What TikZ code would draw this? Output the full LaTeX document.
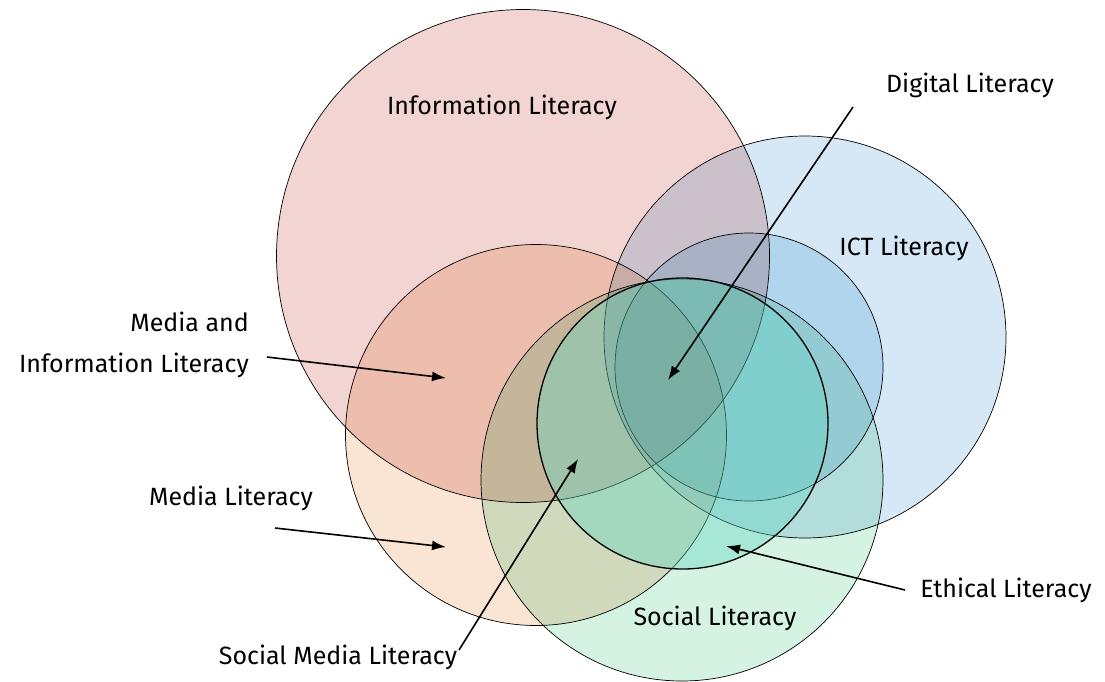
\documentclass[tikz,border=0pt]{standalone}
\usepackage{fontspec}
\setmainfont{Fira Sans}
\usetikzlibrary{arrows.meta}
\definecolor{infoC}{HTML}{F2D5D3}
\definecolor{ictC}{HTML}{D6E8F6}
\definecolor{innerC}{HTML}{D5EBF7}
\definecolor{mediaC}{HTML}{FAE4D3}
\definecolor{socialC}{HTML}{D5F3E2}
\definecolor{ethicC}{HTML}{64D7C4}
\definecolor{tipC}{HTML}{0F2A24}
\tikzset{
  venn/.style={circle, draw=black, line width=0.7pt, inner sep=0pt},
  lbl/.style={font=\fontsize{25}{30}\selectfont, inner sep=0pt, text=black},
  pointer/.style={-{Latex[length=14pt,width=10pt]}, line width=1.6pt, black},
}
\begin{document}
\begin{tikzpicture}[x=1pt,y=-1pt]
\useasboundingbox (0,0) rectangle (1105,681);
\begin{scope}[blend group=multiply]
\node[venn, fill=infoC, minimum size=493pt] (info) at (523,256) {};
\node[venn, fill=ictC, minimum size=402pt] (ict) at (805,337) {};
\node[venn, fill=innerC, minimum size=268pt] (inner) at (749,367) {};
\node[venn, fill=mediaC, minimum size=381pt] (media) at (536,435) {};
\node[venn, fill=socialC, minimum size=402pt] (social) at (682,480) {};
\end{scope}
\node[venn, fill=ethicC, fill opacity=0.4, minimum size=291pt, line width=1.3pt] (ethic) at (682.5,423.5) {};

\node[lbl] (tinfo) at (502,107) {Information Literacy};
\node[lbl] (tict) at (904,248) {ICT Literacy};
\node[lbl] (tsocial) at (715,618) {Social Literacy};
\node[lbl, anchor=east] (tmil1) at (249,322) {Media and};
\node[lbl, anchor=east] (tmil2) at (249,365) {Information Literacy};
\node[lbl] (tml) at (231,498) {Media Literacy};
\node[lbl] (tsml) at (338,657) {Social Media Literacy};
\node[lbl] (tdl) at (970,85) {Digital Literacy};
\node[lbl] (tel) at (1006,590) {Ethical Literacy};

\coordinate (amil) at (267,357);
\coordinate (hmil) at (446,378);
\coordinate (aml) at (275,528);
\coordinate (hml) at (446,547);
\coordinate (asml) at (459,650);
\coordinate (hsml) at (578,459);
\coordinate (adl) at (853,107);
\coordinate (hdl) at (668,380);
\coordinate (ael) at (905,590);
\coordinate (hel) at (726,546);

\draw[pointer] (asml) -- (hsml);
\draw[pointer] (adl) -- (hdl);
\draw[pointer] (amil) -- (hmil);
\draw[pointer] (aml) -- (hml);
\draw[pointer] (ael) -- (hel);
\end{tikzpicture}
\end{document}
